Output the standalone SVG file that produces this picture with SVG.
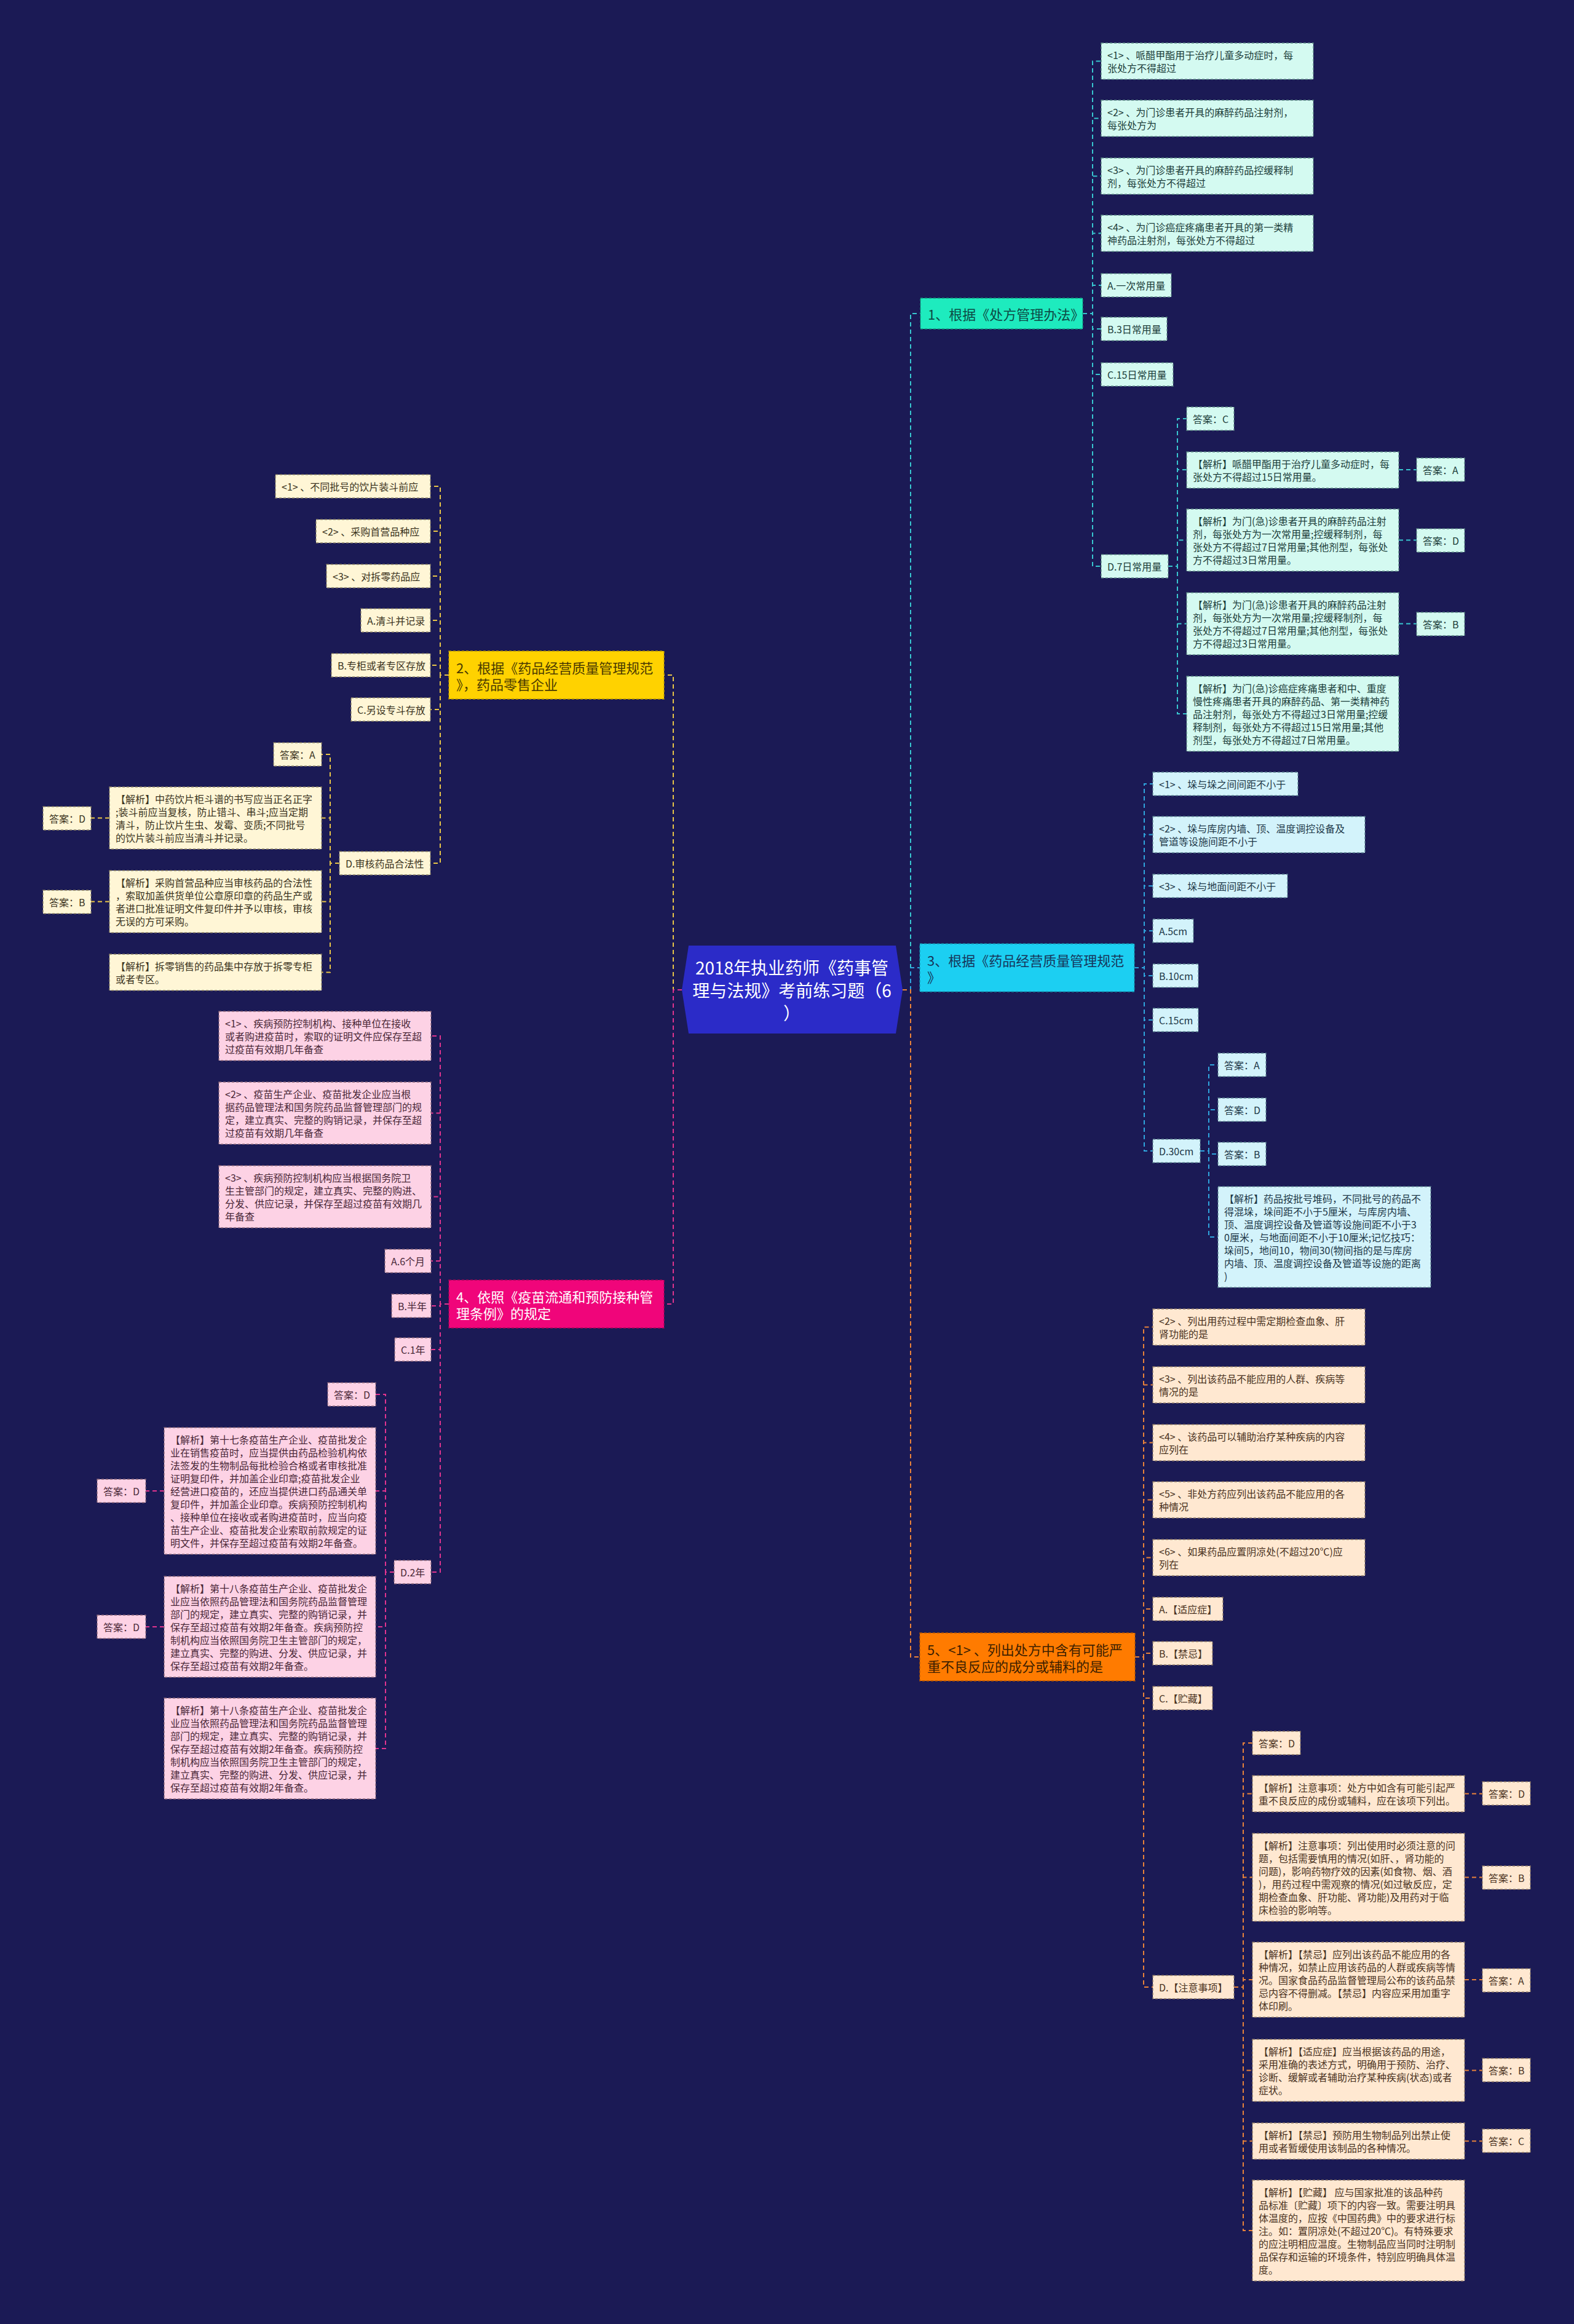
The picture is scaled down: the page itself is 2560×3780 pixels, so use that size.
<svg xmlns="http://www.w3.org/2000/svg" width="2560" height="3780" viewBox="0 0 2560 3780">
<style>
.bg{fill:#1b1a55}
text{font-family:"Noto Sans CJK SC","Noto Sans",sans-serif;dominant-baseline:central}
.t{font-size:16px}
.tb{font-size:22px}
.tc{font-size:28px;fill:#ffffff;text-anchor:middle}
.box{stroke-width:1.3;stroke-dasharray:4 3}
.n1{fill:#1eebbe;stroke:#149c80}.n2{fill:#ffd200;stroke:#b89600}.n3{fill:#1ccff2;stroke:#1490aa}.n4{fill:#f0057a;stroke:#a80456}.n5{fill:#ff7b00;stroke:#b35600}
.l1{fill:#d4faf1;stroke:#5e8c86}.l2{fill:#fff6d6;stroke:#8c8366}.l3{fill:#d3f3fb;stroke:#5f8794}.l4{fill:#fdd2e5;stroke:#8e6a7b}.l5{fill:#ffe8d1;stroke:#8f7a66}
.k1{fill:#1c3d3a}.k2{fill:#3b3421}.k3{fill:#1e3848}.k4{fill:#4a2838}.k5{fill:#4a3322}
.h1{fill:#0d4a45}.h2{fill:#4a3a00}.h3{fill:#16365a}.h4{fill:#ffffff}.h5{fill:#3d1f00}
.c{fill:none;stroke-width:2;stroke-dasharray:7 5}
.c1{stroke:#38c6cf}.c2{stroke:#e8c547}.c3{stroke:#2fa5de}.c4{stroke:#e0348e}.c5{stroke:#e8823a}
</style>
<rect class="bg" x="0" y="0" width="2560" height="3780"/>

<g id="connectors">
<path class="c c1" d="M1468 1610 H1481 V510 H1497"/>
<path class="c c3" d="M1468 1610 H1481 V1574 H1496"/>
<path class="c c5" d="M1468 1610 H1481 V2695 H1496"/>
<path class="c c2" d="M1109 1610 H1095 V1098 H1080"/>
<path class="c c4" d="M1109 1610 H1095 V2121 H1080"/>

<path class="c c1" d="M1761 510 H1777 V99.5 H1791"/>
<path class="c c1" d="M1761 510 H1777 V192.5 H1791"/>
<path class="c c1" d="M1761 510 H1777 V286.5 H1791"/>
<path class="c c1" d="M1761 510 H1777 V379.5 H1791"/>
<path class="c c1" d="M1761 510 H1777 V464 H1791"/>
<path class="c c1" d="M1761 510 H1777 V535 H1791"/>
<path class="c c1" d="M1761 510 H1777 V609 H1791"/>
<path class="c c1" d="M1761 510 H1777 V921 H1791"/>
<path class="c c1" d="M1900 921 H1915 V681 H1930"/>
<path class="c c1" d="M1900 921 H1915 V764 H1930"/>
<path class="c c1" d="M1900 921 H1915 V878.5 H1930"/>
<path class="c c1" d="M1900 921 H1915 V1014.5 H1930"/>
<path class="c c1" d="M1900 921 H1915 V1161 H1930"/>
<path class="c c1" d="M2275 764 H2304"/>
<path class="c c1" d="M2275 878.5 H2304"/>
<path class="c c1" d="M2275 1014.5 H2304"/>

<path class="c c3" d="M1845 1574 H1861 V1275 H1875"/>
<path class="c c3" d="M1845 1574 H1861 V1357.5 H1875"/>
<path class="c c3" d="M1845 1574 H1861 V1441 H1875"/>
<path class="c c3" d="M1845 1574 H1861 V1514 H1875"/>
<path class="c c3" d="M1845 1574 H1861 V1587 H1875"/>
<path class="c c3" d="M1845 1574 H1861 V1659 H1875"/>
<path class="c c3" d="M1845 1574 H1861 V1872 H1875"/>
<path class="c c3" d="M1952 1872 H1966 V1732 H1981"/>
<path class="c c3" d="M1952 1872 H1966 V1805 H1981"/>
<path class="c c3" d="M1952 1872 H1966 V1877 H1981"/>
<path class="c c3" d="M1952 1872 H1966 V2012 H1981"/>

<path class="c c5" d="M1846 2695 H1860 V2158.5 H1875"/>
<path class="c c5" d="M1846 2695 H1860 V2252.5 H1875"/>
<path class="c c5" d="M1846 2695 H1860 V2346.5 H1875"/>
<path class="c c5" d="M1846 2695 H1860 V2439.5 H1875"/>
<path class="c c5" d="M1846 2695 H1860 V2533.5 H1875"/>
<path class="c c5" d="M1846 2695 H1860 V2617 H1875"/>
<path class="c c5" d="M1846 2695 H1860 V2689 H1875"/>
<path class="c c5" d="M1846 2695 H1860 V2762 H1875"/>
<path class="c c5" d="M1846 2695 H1860 V3232 H1875"/>
<path class="c c5" d="M2007 3232 H2022 V2835 H2037"/>
<path class="c c5" d="M2007 3232 H2022 V2917.5 H2037"/>
<path class="c c5" d="M2007 3232 H2022 V3053.5 H2037"/>
<path class="c c5" d="M2007 3232 H2022 V3220 H2037"/>
<path class="c c5" d="M2007 3232 H2022 V3367.5 H2037"/>
<path class="c c5" d="M2007 3232 H2022 V3482.5 H2037"/>
<path class="c c5" d="M2007 3232 H2022 V3628 H2037"/>
<path class="c c5" d="M2382 2917.5 H2411"/>
<path class="c c5" d="M2382 3053.5 H2411"/>
<path class="c c5" d="M2382 3220 H2411"/>
<path class="c c5" d="M2382 3367.5 H2411"/>
<path class="c c5" d="M2382 3482.5 H2411"/>

<path class="c c2" d="M730 1098 H716 V791 H700"/>
<path class="c c2" d="M730 1098 H716 V864 H700"/>
<path class="c c2" d="M730 1098 H716 V937 H700"/>
<path class="c c2" d="M730 1098 H716 V1009 H700"/>
<path class="c c2" d="M730 1098 H716 V1082 H700"/>
<path class="c c2" d="M730 1098 H716 V1154 H700"/>
<path class="c c2" d="M730 1098 H716 V1404 H700"/>
<path class="c c2" d="M552 1404 H537 V1227 H523"/>
<path class="c c2" d="M552 1404 H537 V1330.5 H523"/>
<path class="c c2" d="M552 1404 H537 V1466.5 H523"/>
<path class="c c2" d="M552 1404 H537 V1581.5 H523"/>
<path class="c c2" d="M178 1330.5 H148"/>
<path class="c c2" d="M178 1466.5 H148"/>

<path class="c c4" d="M730 2121 H716 V1685 H701"/>
<path class="c c4" d="M730 2121 H716 V1810.5 H701"/>
<path class="c c4" d="M730 2121 H716 V1946.5 H701"/>
<path class="c c4" d="M730 2121 H716 V2051 H701"/>
<path class="c c4" d="M730 2121 H716 V2124 H701"/>
<path class="c c4" d="M730 2121 H716 V2195 H701"/>
<path class="c c4" d="M730 2121 H716 V2557 H701"/>
<path class="c c4" d="M641 2557 H627 V2268 H611"/>
<path class="c c4" d="M641 2557 H627 V2425 H611"/>
<path class="c c4" d="M641 2557 H627 V2646 H611"/>
<path class="c c4" d="M641 2557 H627 V2844 H611"/>
<path class="c c4" d="M267 2425 H237"/>
<path class="c c4" d="M267 2646 H237"/>
</g>

<g id="root">
<polygon points="1120,1538 1457,1538 1468,1610 1457,1681 1120,1681 1109,1610" fill="#2b2bc8"/>
<text class="tc"><tspan x="1288" y="1573">2018年执业药师《药事管</tspan><tspan x="1288" y="1610">理与法规》考前练习题（6</tspan><tspan x="1288" y="1647">）</tspan></text>
</g>

<!-- Branch 1 -->
<g id="b1"><rect class="box n1" x="1497" y="485" width="264" height="50"/><text class="tb h1"><tspan x="1509" y="510">1、根据《处方管理办法》</tspan></text></g>
<g id="b1-q1"><rect class="box l1" x="1791" y="70" width="345" height="59"/><text class="t k1"><tspan x="1801" y="89">&lt;1&gt; 、哌醋甲酯用于治疗儿童多动症时，每</tspan><tspan x="1801" y="110">张处方不得超过</tspan></text></g>
<g id="b1-q2"><rect class="box l1" x="1791" y="163" width="345" height="59"/><text class="t k1"><tspan x="1801" y="182">&lt;2&gt; 、为门诊患者开具的麻醉药品注射剂，</tspan><tspan x="1801" y="203">每张处方为</tspan></text></g>
<g id="b1-q3"><rect class="box l1" x="1791" y="257" width="345" height="59"/><text class="t k1"><tspan x="1801" y="276">&lt;3&gt; 、为门诊患者开具的麻醉药品控缓释制</tspan><tspan x="1801" y="297">剂，每张处方不得超过</tspan></text></g>
<g id="b1-q4"><rect class="box l1" x="1791" y="350" width="345" height="59"/><text class="t k1"><tspan x="1801" y="369">&lt;4&gt; 、为门诊癌症疼痛患者开具的第一类精</tspan><tspan x="1801" y="390">神药品注射剂，每张处方不得超过</tspan></text></g>
<g id="b1-a"><rect class="box l1" x="1791" y="445" width="114" height="38"/><text class="t k1"><tspan x="1801" y="464">A.一次常用量</tspan></text></g>
<g id="b1-b"><rect class="box l1" x="1791" y="516" width="107" height="38"/><text class="t k1"><tspan x="1801" y="535">B.3日常用量</tspan></text></g>
<g id="b1-c"><rect class="box l1" x="1791" y="590" width="117" height="38"/><text class="t k1"><tspan x="1801" y="609">C.15日常用量</tspan></text></g>
<g id="b1-d"><rect class="box l1" x="1791" y="902" width="109" height="38"/><text class="t k1"><tspan x="1801" y="921">D.7日常用量</tspan></text></g>
<g id="b1-ansC"><rect class="box l1" x="1930" y="662" width="77" height="38"/><text class="t k1"><tspan x="1940" y="681">答案：C</tspan></text></g>
<g id="b1-j1"><rect class="box l1" x="1930" y="735" width="345" height="59"/><text class="t k1"><tspan x="1940" y="754">【解析】哌醋甲酯用于治疗儿童多动症时，每</tspan><tspan x="1940" y="775">张处方不得超过15日常用量。</tspan></text></g>
<g id="b1-ansA"><rect class="box l1" x="2304" y="745" width="78" height="38"/><text class="t k1"><tspan x="2314" y="764">答案：A</tspan></text></g>
<g id="b1-j2"><rect class="box l1" x="1930" y="828" width="345" height="101"/><text class="t k1"><tspan x="1940" y="847">【解析】为门(急)诊患者开具的麻醉药品注射</tspan><tspan x="1940" y="868">剂，每张处方为一次常用量;控缓释制剂，每</tspan><tspan x="1940" y="889">张处方不得超过7日常用量;其他剂型，每张处</tspan><tspan x="1940" y="910">方不得超过3日常用量。</tspan></text></g>
<g id="b1-ansD"><rect class="box l1" x="2304" y="860" width="78" height="38"/><text class="t k1"><tspan x="2314" y="879">答案：D</tspan></text></g>
<g id="b1-j3"><rect class="box l1" x="1930" y="964" width="345" height="101"/><text class="t k1"><tspan x="1940" y="983">【解析】为门(急)诊患者开具的麻醉药品注射</tspan><tspan x="1940" y="1004">剂，每张处方为一次常用量;控缓释制剂，每</tspan><tspan x="1940" y="1025">张处方不得超过7日常用量;其他剂型，每张处</tspan><tspan x="1940" y="1046">方不得超过3日常用量。</tspan></text></g>
<g id="b1-ansB"><rect class="box l1" x="2304" y="996" width="78" height="38"/><text class="t k1"><tspan x="2314" y="1015">答案：B</tspan></text></g>
<g id="b1-j4"><rect class="box l1" x="1930" y="1100" width="345" height="122"/><text class="t k1"><tspan x="1940" y="1119">【解析】为门(急)诊癌症疼痛患者和中、重度</tspan><tspan x="1940" y="1140">慢性疼痛患者开具的麻醉药品、第一类精神药</tspan><tspan x="1940" y="1161">品注射剂，每张处方不得超过3日常用量;控缓</tspan><tspan x="1940" y="1182">释制剂，每张处方不得超过15日常用量;其他</tspan><tspan x="1940" y="1203">剂型，每张处方不得超过7日常用量。</tspan></text></g>

<!-- Branch 3 -->
<g id="b3"><rect class="box n3" x="1496" y="1535" width="349" height="78"/><text class="tb h3"><tspan x="1508" y="1560.5">3、根据《药品经营质量管理规范</tspan><tspan x="1508" y="1587.5">》</tspan></text></g>
<g id="b3-q1"><rect class="box l3" x="1875" y="1256" width="236" height="38"/><text class="t k3"><tspan x="1885" y="1275">&lt;1&gt; 、垛与垛之间间距不小于</tspan></text></g>
<g id="b3-q2"><rect class="box l3" x="1875" y="1328" width="345" height="59"/><text class="t k3"><tspan x="1885" y="1347">&lt;2&gt; 、垛与库房内墙、顶、温度调控设备及</tspan><tspan x="1885" y="1368">管道等设施间距不小于</tspan></text></g>
<g id="b3-q3"><rect class="box l3" x="1875" y="1422" width="219" height="38"/><text class="t k3"><tspan x="1885" y="1441">&lt;3&gt; 、垛与地面间距不小于</tspan></text></g>
<g id="b3-a"><rect class="box l3" x="1875" y="1495" width="66" height="38"/><text class="t k3"><tspan x="1885" y="1514">A.5cm</tspan></text></g>
<g id="b3-b"><rect class="box l3" x="1875" y="1568" width="74" height="38"/><text class="t k3"><tspan x="1885" y="1587">B.10cm</tspan></text></g>
<g id="b3-c"><rect class="box l3" x="1875" y="1640" width="74" height="38"/><text class="t k3"><tspan x="1885" y="1659">C.15cm</tspan></text></g>
<g id="b3-d"><rect class="box l3" x="1875" y="1853" width="77" height="38"/><text class="t k3"><tspan x="1885" y="1872">D.30cm</tspan></text></g>
<g id="b3-ansA"><rect class="box l3" x="1981" y="1713" width="78" height="38"/><text class="t k3"><tspan x="1991" y="1732">答案：A</tspan></text></g>
<g id="b3-ansD"><rect class="box l3" x="1981" y="1786" width="78" height="38"/><text class="t k3"><tspan x="1991" y="1805">答案：D</tspan></text></g>
<g id="b3-ansB"><rect class="box l3" x="1981" y="1858" width="78" height="38"/><text class="t k3"><tspan x="1991" y="1877">答案：B</tspan></text></g>
<g id="b3-j"><rect class="box l3" x="1981" y="1930" width="346" height="164"/><text class="t k3"><tspan x="1991" y="1949">【解析】药品按批号堆码，不同批号的药品不</tspan><tspan x="1991" y="1970">得混垛，垛间距不小于5厘米，与库房内墙、</tspan><tspan x="1991" y="1991">顶、温度调控设备及管道等设施间距不小于3</tspan><tspan x="1991" y="2012">0厘米，与地面间距不小于10厘米;记忆技巧：</tspan><tspan x="1991" y="2033">垛间5，地间10，物间30(物间指的是与库房</tspan><tspan x="1991" y="2054">内墙、顶、温度调控设备及管道等设施的距离</tspan><tspan x="1991" y="2075">)</tspan></text></g>

<!-- Branch 5 -->
<g id="b5"><rect class="box n5" x="1496" y="2656" width="350" height="78"/><text class="tb h5"><tspan x="1508" y="2681.5">5、&lt;1&gt; 、列出处方中含有可能严</tspan><tspan x="1508" y="2708.5">重不良反应的成分或辅料的是</tspan></text></g>
<g id="b5-q2"><rect class="box l5" x="1875" y="2129" width="345" height="59"/><text class="t k5"><tspan x="1885" y="2148">&lt;2&gt; 、列出用药过程中需定期检查血象、肝</tspan><tspan x="1885" y="2169">肾功能的是</tspan></text></g>
<g id="b5-q3"><rect class="box l5" x="1875" y="2223" width="345" height="59"/><text class="t k5"><tspan x="1885" y="2242">&lt;3&gt; 、列出该药品不能应用的人群、疾病等</tspan><tspan x="1885" y="2263">情况的是</tspan></text></g>
<g id="b5-q4"><rect class="box l5" x="1875" y="2317" width="345" height="59"/><text class="t k5"><tspan x="1885" y="2336">&lt;4&gt; 、该药品可以辅助治疗某种疾病的内容</tspan><tspan x="1885" y="2357">应列在</tspan></text></g>
<g id="b5-q5"><rect class="box l5" x="1875" y="2410" width="345" height="59"/><text class="t k5"><tspan x="1885" y="2429">&lt;5&gt; 、非处方药应列出该药品不能应用的各</tspan><tspan x="1885" y="2450">种情况</tspan></text></g>
<g id="b5-q6"><rect class="box l5" x="1875" y="2504" width="345" height="59"/><text class="t k5"><tspan x="1885" y="2523">&lt;6&gt; 、如果药品应置阴凉处(不超过20℃)应</tspan><tspan x="1885" y="2544">列在</tspan></text></g>
<g id="b5-a"><rect class="box l5" x="1875" y="2598" width="114" height="38"/><text class="t k5"><tspan x="1885" y="2617">A.【适应症】</tspan></text></g>
<g id="b5-b"><rect class="box l5" x="1875" y="2670" width="97" height="38"/><text class="t k5"><tspan x="1885" y="2689">B.【禁忌】</tspan></text></g>
<g id="b5-c"><rect class="box l5" x="1875" y="2743" width="97" height="38"/><text class="t k5"><tspan x="1885" y="2762">C.【贮藏】</tspan></text></g>
<g id="b5-d"><rect class="box l5" x="1875" y="3213" width="132" height="38"/><text class="t k5"><tspan x="1885" y="3232">D.【注意事项】</tspan></text></g>
<g id="b5-ansD"><rect class="box l5" x="2037" y="2816" width="78" height="38"/><text class="t k5"><tspan x="2047" y="2835">答案：D</tspan></text></g>
<g id="b5-j1"><rect class="box l5" x="2037" y="2888" width="345" height="59"/><text class="t k5"><tspan x="2047" y="2907">【解析】注意事项：处方中如含有可能引起严</tspan><tspan x="2047" y="2928">重不良反应的成份或辅料，应在该项下列出。</tspan></text></g>
<g id="b5-j1a"><rect class="box l5" x="2411" y="2898" width="78" height="38"/><text class="t k5"><tspan x="2421" y="2917">答案：D</tspan></text></g>
<g id="b5-j2"><rect class="box l5" x="2037" y="2982" width="345" height="143"/><text class="t k5"><tspan x="2047" y="3001">【解析】注意事项：列出使用时必须注意的问</tspan><tspan x="2047" y="3022">题，包括需要慎用的情况(如肝、，肾功能的</tspan><tspan x="2047" y="3043">问题)，影响药物疗效的因素(如食物、烟、酒</tspan><tspan x="2047" y="3064">)，用药过程中需观察的情况(如过敏反应，定</tspan><tspan x="2047" y="3085">期检查血象、肝功能、肾功能)及用药对于临</tspan><tspan x="2047" y="3106">床检验的影响等。</tspan></text></g>
<g id="b5-j2a"><rect class="box l5" x="2411" y="3035" width="78" height="38"/><text class="t k5"><tspan x="2421" y="3054">答案：B</tspan></text></g>
<g id="b5-j3"><rect class="box l5" x="2037" y="3159" width="345" height="122"/><text class="t k5"><tspan x="2047" y="3178">【解析】【禁忌】应列出该药品不能应用的各</tspan><tspan x="2047" y="3199">种情况，如禁止应用该药品的人群或疾病等情</tspan><tspan x="2047" y="3220">况。国家食品药品监督管理局公布的该药品禁</tspan><tspan x="2047" y="3241">忌内容不得删减。【禁忌】内容应采用加重字</tspan><tspan x="2047" y="3262">体印刷。</tspan></text></g>
<g id="b5-j3a"><rect class="box l5" x="2411" y="3202" width="78" height="38"/><text class="t k5"><tspan x="2421" y="3221">答案：A</tspan></text></g>
<g id="b5-j4"><rect class="box l5" x="2037" y="3317" width="345" height="101"/><text class="t k5"><tspan x="2047" y="3336">【解析】【适应症】应当根据该药品的用途，</tspan><tspan x="2047" y="3357">采用准确的表述方式，明确用于预防、治疗、</tspan><tspan x="2047" y="3378">诊断、缓解或者辅助治疗某种疾病(状态)或者</tspan><tspan x="2047" y="3399">症状。</tspan></text></g>
<g id="b5-j4a"><rect class="box l5" x="2411" y="3348" width="78" height="38"/><text class="t k5"><tspan x="2421" y="3367">答案：B</tspan></text></g>
<g id="b5-j5"><rect class="box l5" x="2037" y="3453" width="345" height="59"/><text class="t k5"><tspan x="2047" y="3472">【解析】【禁忌】预防用生物制品列出禁止使</tspan><tspan x="2047" y="3493">用或者暂缓使用该制品的各种情况。</tspan></text></g>
<g id="b5-j5a"><rect class="box l5" x="2411" y="3463" width="78" height="38"/><text class="t k5"><tspan x="2421" y="3482">答案：C</tspan></text></g>
<g id="b5-j6"><rect class="box l5" x="2037" y="3546" width="345" height="164"/><text class="t k5"><tspan x="2047" y="3565">【解析】【贮藏】 应与国家批准的该品种药</tspan><tspan x="2047" y="3586">品标准〔贮藏〕项下的内容一致。需要注明具</tspan><tspan x="2047" y="3607">体温度的，应按《中国药典》中的要求进行标</tspan><tspan x="2047" y="3628">注。如：置阴凉处(不超过20℃)。有特殊要求</tspan><tspan x="2047" y="3649">的应注明相应温度。生物制品应当同时注明制</tspan><tspan x="2047" y="3670">品保存和运输的环境条件，特别应明确具体温</tspan><tspan x="2047" y="3691">度。</tspan></text></g>

<!-- Branch 2 -->
<g id="b2"><rect class="box n2" x="730" y="1059" width="350" height="78"/><text class="tb h2"><tspan x="742" y="1084.5">2、根据《药品经营质量管理规范</tspan><tspan x="742" y="1111.5">》，药品零售企业</tspan></text></g>
<g id="b2-q1"><rect class="box l2" x="448" y="772" width="252" height="38"/><text class="t k2"><tspan x="458" y="791">&lt;1&gt; 、不同批号的饮片装斗前应</tspan></text></g>
<g id="b2-q2"><rect class="box l2" x="514" y="845" width="186" height="38"/><text class="t k2"><tspan x="524" y="864">&lt;2&gt; 、采购首营品种应</tspan></text></g>
<g id="b2-q3"><rect class="box l2" x="531" y="918" width="169" height="38"/><text class="t k2"><tspan x="541" y="937">&lt;3&gt; 、对拆零药品应</tspan></text></g>
<g id="b2-a"><rect class="box l2" x="587" y="990" width="113" height="38"/><text class="t k2"><tspan x="597" y="1009">A.清斗并记录</tspan></text></g>
<g id="b2-b"><rect class="box l2" x="539" y="1063" width="161" height="38"/><text class="t k2"><tspan x="549" y="1082">B.专柜或者专区存放</tspan></text></g>
<g id="b2-c"><rect class="box l2" x="571" y="1135" width="129" height="38"/><text class="t k2"><tspan x="581" y="1154">C.另设专斗存放</tspan></text></g>
<g id="b2-d"><rect class="box l2" x="552" y="1385" width="148" height="38"/><text class="t k2"><tspan x="562" y="1404">D.审核药品合法性</tspan></text></g>
<g id="b2-ansA"><rect class="box l2" x="445" y="1208" width="78" height="38"/><text class="t k2"><tspan x="455" y="1227">答案：A</tspan></text></g>
<g id="b2-j1"><rect class="box l2" x="178" y="1280" width="345" height="101"/><text class="t k2"><tspan x="188" y="1299">【解析】中药饮片柜斗谱的书写应当正名正字</tspan><tspan x="188" y="1320">;装斗前应当复核，防止错斗、串斗;应当定期</tspan><tspan x="188" y="1341">清斗，防止饮片生虫、发霉、变质;不同批号</tspan><tspan x="188" y="1362">的饮片装斗前应当清斗并记录。</tspan></text></g>
<g id="b2-j1a"><rect class="box l2" x="70" y="1312" width="78" height="38"/><text class="t k2"><tspan x="80" y="1331">答案：D</tspan></text></g>
<g id="b2-j2"><rect class="box l2" x="178" y="1416" width="345" height="101"/><text class="t k2"><tspan x="188" y="1435">【解析】采购首营品种应当审核药品的合法性</tspan><tspan x="188" y="1456">，索取加盖供货单位公章原印章的药品生产或</tspan><tspan x="188" y="1477">者进口批准证明文件复印件并予以审核，审核</tspan><tspan x="188" y="1498">无误的方可采购。</tspan></text></g>
<g id="b2-j2a"><rect class="box l2" x="70" y="1448" width="78" height="38"/><text class="t k2"><tspan x="80" y="1467">答案：B</tspan></text></g>
<g id="b2-j3"><rect class="box l2" x="178" y="1552" width="345" height="59"/><text class="t k2"><tspan x="188" y="1571">【解析】拆零销售的药品集中存放于拆零专柜</tspan><tspan x="188" y="1592">或者专区。</tspan></text></g>

<!-- Branch 4 -->
<g id="b4"><rect class="box n4" x="730" y="2082" width="350" height="78"/><text class="tb h4"><tspan x="742" y="2107.5">4、依照《疫苗流通和预防接种管</tspan><tspan x="742" y="2134.5">理条例》的规定</tspan></text></g>
<g id="b4-q1"><rect class="box l4" x="356" y="1645" width="345" height="80"/><text class="t k4"><tspan x="366" y="1664">&lt;1&gt; 、疾病预防控制机构、接种单位在接收</tspan><tspan x="366" y="1685">或者购进疫苗时，索取的证明文件应保存至超</tspan><tspan x="366" y="1706">过疫苗有效期几年备查</tspan></text></g>
<g id="b4-q2"><rect class="box l4" x="356" y="1760" width="345" height="101"/><text class="t k4"><tspan x="366" y="1779">&lt;2&gt; 、疫苗生产企业、疫苗批发企业应当根</tspan><tspan x="366" y="1800">据药品管理法和国务院药品监督管理部门的规</tspan><tspan x="366" y="1821">定，建立真实、完整的购销记录，并保存至超</tspan><tspan x="366" y="1842">过疫苗有效期几年备查</tspan></text></g>
<g id="b4-q3"><rect class="box l4" x="356" y="1896" width="345" height="101"/><text class="t k4"><tspan x="366" y="1915">&lt;3&gt; 、疾病预防控制机构应当根据国务院卫</tspan><tspan x="366" y="1936">生主管部门的规定，建立真实、完整的购进、</tspan><tspan x="366" y="1957">分发、供应记录，并保存至超过疫苗有效期几</tspan><tspan x="366" y="1978">年备查</tspan></text></g>
<g id="b4-a"><rect class="box l4" x="626" y="2032" width="75" height="38"/><text class="t k4"><tspan x="636" y="2051">A.6个月</tspan></text></g>
<g id="b4-b"><rect class="box l4" x="637" y="2105" width="64" height="38"/><text class="t k4"><tspan x="647" y="2124">B.半年</tspan></text></g>
<g id="b4-c"><rect class="box l4" x="642" y="2176" width="59" height="38"/><text class="t k4"><tspan x="652" y="2195">C.1年</tspan></text></g>
<g id="b4-d"><rect class="box l4" x="641" y="2538" width="60" height="38"/><text class="t k4"><tspan x="651" y="2557">D.2年</tspan></text></g>
<g id="b4-ansD"><rect class="box l4" x="533" y="2249" width="78" height="38"/><text class="t k4"><tspan x="543" y="2268">答案：D</tspan></text></g>
<g id="b4-j1"><rect class="box l4" x="267" y="2322" width="344" height="206"/><text class="t k4"><tspan x="277" y="2341">【解析】第十七条疫苗生产企业、疫苗批发企</tspan><tspan x="277" y="2362">业在销售疫苗时，应当提供由药品检验机构依</tspan><tspan x="277" y="2383">法签发的生物制品每批检验合格或者审核批准</tspan><tspan x="277" y="2404">证明复印件，并加盖企业印章;疫苗批发企业</tspan><tspan x="277" y="2425">经营进口疫苗的，还应当提供进口药品通关单</tspan><tspan x="277" y="2446">复印件，并加盖企业印章。疾病预防控制机构</tspan><tspan x="277" y="2467">、接种单位在接收或者购进疫苗时，应当向疫</tspan><tspan x="277" y="2488">苗生产企业、疫苗批发企业索取前款规定的证</tspan><tspan x="277" y="2509">明文件，并保存至超过疫苗有效期2年备查。</tspan></text></g>
<g id="b4-j1a"><rect class="box l4" x="158" y="2406" width="79" height="38"/><text class="t k4"><tspan x="168" y="2425">答案：D</tspan></text></g>
<g id="b4-j2"><rect class="box l4" x="267" y="2564" width="344" height="164"/><text class="t k4"><tspan x="277" y="2583">【解析】第十八条疫苗生产企业、疫苗批发企</tspan><tspan x="277" y="2604">业应当依照药品管理法和国务院药品监督管理</tspan><tspan x="277" y="2625">部门的规定，建立真实、完整的购销记录，并</tspan><tspan x="277" y="2646">保存至超过疫苗有效期2年备查。疾病预防控</tspan><tspan x="277" y="2667">制机构应当依照国务院卫生主管部门的规定，</tspan><tspan x="277" y="2688">建立真实、完整的购进、分发、供应记录，并</tspan><tspan x="277" y="2709">保存至超过疫苗有效期2年备查。</tspan></text></g>
<g id="b4-j2a"><rect class="box l4" x="158" y="2627" width="79" height="38"/><text class="t k4"><tspan x="168" y="2646">答案：D</tspan></text></g>
<g id="b4-j3"><rect class="box l4" x="267" y="2762" width="344" height="164"/><text class="t k4"><tspan x="277" y="2781">【解析】第十八条疫苗生产企业、疫苗批发企</tspan><tspan x="277" y="2802">业应当依照药品管理法和国务院药品监督管理</tspan><tspan x="277" y="2823">部门的规定，建立真实、完整的购销记录，并</tspan><tspan x="277" y="2844">保存至超过疫苗有效期2年备查。疾病预防控</tspan><tspan x="277" y="2865">制机构应当依照国务院卫生主管部门的规定，</tspan><tspan x="277" y="2886">建立真实、完整的购进、分发、供应记录，并</tspan><tspan x="277" y="2907">保存至超过疫苗有效期2年备查。</tspan></text></g>
</svg>
